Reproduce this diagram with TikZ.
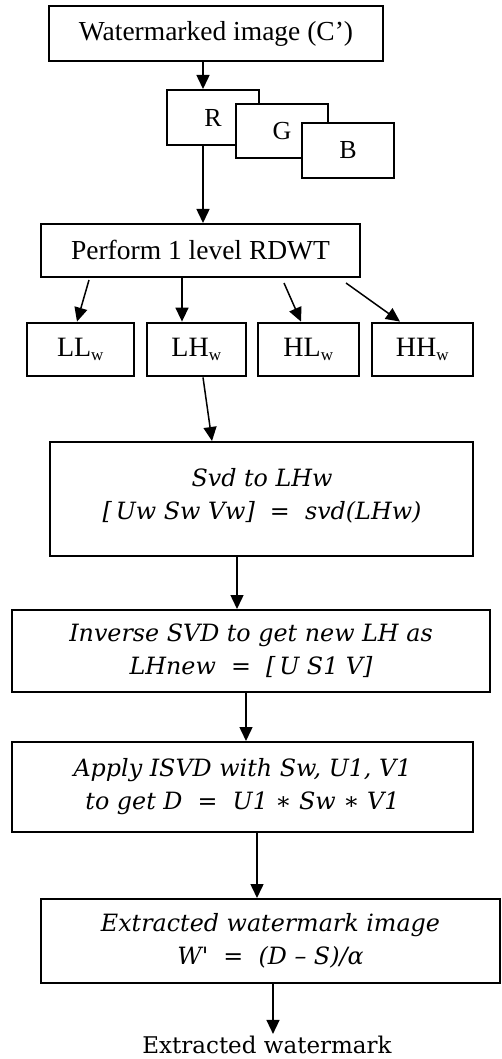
\documentclass[tikz,border=0pt]{standalone}
\usepackage{fontspec}
\setmainfont{Liberation Serif}
\newfontfamily\cambria{DejaVu Serif}
\usetikzlibrary{arrows.meta}
\tikzset{
    box/.style={draw, line width=2pt, fill=white, inner sep=0pt, font=\fontsize{27.5}{30}\selectfont},
    band/.style={draw, line width=2.8pt, inner sep=0pt, minimum height=53pt, font=\fontsize{28}{30}\selectfont},
    chan/.style={draw, line width=2pt, fill=white, inner sep=0pt, minimum width=92pt, minimum height=55pt, font=\fontsize{26}{28}\selectfont},
    mbox/.style={draw, line width=2pt, inner sep=0pt, align=center, font=\cambria\itshape\fontsize{23.8}{33}\selectfont},
    arr/.style={line width=1.5pt, -{Triangle[length=14pt,width=13pt]}}
}
\newcommand{\sbw}{\textsubscript{\fontsize{17}{17}\selectfont w}}
\begin{document}
\begin{tikzpicture}[x=1pt,y=-1pt]
    \useasboundingbox (0,0) rectangle (502,1059);
    \node[box, line width=2.5pt, minimum width=334pt, minimum height=55pt] (wimg) at (216,33.5) {Watermarked image (C')};
    \node[chan] (r) at (213,117.5) {R};
    \node[chan, minimum height=54pt] (g) at (282,131) {G};
    \node[chan] (b) at (348,150.5) {B};
    \node[box, minimum width=319pt, minimum height=53pt] (rdwt) at (200.5,250.5) {Perform 1 level RDWT};
    \node[band, minimum width=107pt] (ll) at (80.5,349.5) {LL\sbw};
    \node[band, minimum width=99pt] (lh) at (196.5,349.5) {LH\sbw};
    \node[band, minimum width=101pt] (hl) at (308.5,349.5) {HL\sbw};
    \node[band, minimum width=101pt] (hh) at (422.5,349.5) {HH\sbw};
    \node[mbox, minimum width=423pt, minimum height=114pt] (svd) at (261.5,499) {};
    \node[mbox, draw=none] (svdtxt) at (262,496) {Svd to LHw\\{[}\,Uw Sw Vw{]} \ = \ svd(LHw)};
    \node[mbox, minimum width=478pt, minimum height=82pt] (inv) at (251,651) {Inverse SVD to get new LH as\\LHnew \ = \ {[}\,U S1 V{]}};
    \node[mbox, minimum width=461pt, minimum height=90pt] (isvd) at (242.5,787) {Apply ISVD with Sw, U1, V1\\to get D \ = \ U1 ∗ Sw ∗ V1};
    \node[mbox, minimum width=459pt, minimum height=84pt] (ext) at (270.5,941) {Extracted watermark image\\W' \ = \ (D – S)/α};
    \node[font=\cambria\fontsize{23}{26}\selectfont, inner sep=2pt] (out) at (267,1045) {Extracted watermark};
    \draw[arr] (wimg.south -| 203,0) -- (r.north -| 203,0);
    \draw[arr] (r.south -| 203,0) -- (rdwt.north -| 203,0);
    \draw[arr] (89,280) -- (ll.north -| 77,0);
    \draw[arr] (rdwt.south -| 182,0) -- (lh.north -| 182,0);
    \draw[arr] (284,283) -- (hl.north -| 301,0);
    \draw[arr] (346,283) -- (hh.north -| 400,0);
    \draw[arr] (lh.south -| 203,0) -- (svd.north -| 212,0);
    \draw[arr] (svd.south -| 237,0) -- (inv.north -| 237,0);
    \draw[arr] (inv.south -| 246,0) -- (isvd.north -| 246,0);
    \draw[arr] (isvd.south -| 257,0) -- (ext.north -| 257,0);
    \draw[arr] (ext.south -| 273,0) -- (out.north -| 273,0);
\end{tikzpicture}
\end{document}
